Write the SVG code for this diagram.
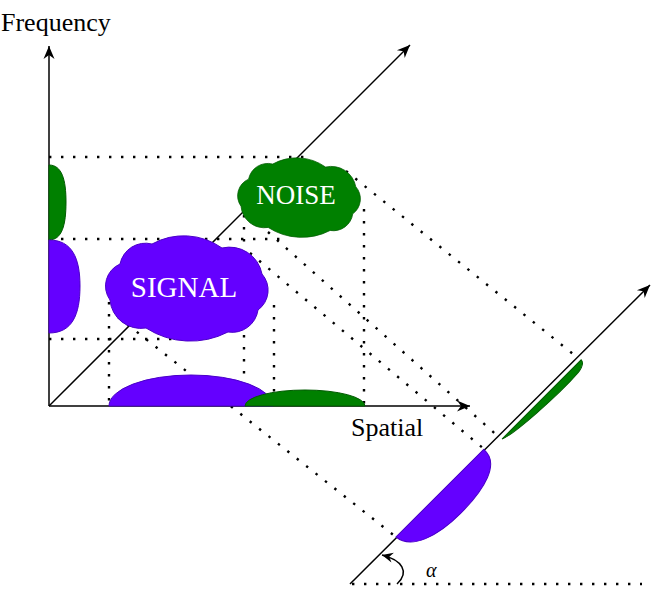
<svg xmlns="http://www.w3.org/2000/svg" xmlns:xlink="http://www.w3.org/1999/xlink" width="664" height="604" viewBox="0 0 664 604">
<style>
.axis{stroke:#000;stroke-width:1.5;fill:none}
.dot{stroke:#000;stroke-width:2.4;stroke-dasharray:2.4 9.6;fill:none}
.purple{fill:#6400ff;stroke:#4a00c8;stroke-width:1}
.green{fill:#008000;stroke:#005a00;stroke-width:1}
.lbl{fill:#000}
.cl{fill:#fff;text-anchor:middle}
</style>
<defs>
<marker id="arr" markerUnits="userSpaceOnUse" markerWidth="16" markerHeight="14" viewBox="-14 -7 16 14" refX="0" refY="0" orient="auto">
<path d="M0,0 L-13,-5.5 L-9,0 L-13,5.5 Z" fill="#000"/>
</marker>
<marker id="arrs" markerUnits="userSpaceOnUse" markerWidth="14" markerHeight="12" viewBox="-12 -6 14 12" refX="0" refY="0" orient="auto">
<path d="M0,0 L-11,-5 L-7.5,0 L-11,5 Z" fill="#000"/>
</marker>
<path id="cloud" d="M4,64 A24,24 0 0 1 14,28 A26,26 0 0 1 46,8 A66,66 0 0 1 116,12 A33,33 0 0 1 156,38 A24.5,24.5 0 0 1 152,74 A26,26 0 0 1 122,96 A82,82 0 0 1 40,92 A31,31 0 0 1 4,64 Z"/>
</defs>

<g id="axes">
<line class="axis" x1="49" y1="406" x2="49" y2="46" marker-end="url(#arr)"/>
<line class="axis" x1="49" y1="406" x2="470" y2="406" marker-end="url(#arr)"/>
<line class="axis" x1="49" y1="406" x2="410" y2="45" marker-end="url(#arr)"/>
<line class="axis" x1="350" y1="584" x2="650" y2="285" marker-end="url(#arr)"/>
</g>

<g id="connectors">
<line class="dot" x1="49" y1="157" x2="305" y2="157"/>
<line class="dot" x1="49" y1="239" x2="280" y2="239"/>
<line class="dot" x1="49" y1="339" x2="183" y2="339"/>
<line class="dot" x1="109" y1="290" x2="109" y2="406"/>
<line class="dot" x1="244" y1="215" x2="244" y2="406"/>
<line class="dot" x1="274" y1="305" x2="274" y2="406"/>
<line class="dot" x1="364" y1="209" x2="364" y2="406"/>
<line class="dot" x1="346" y1="171" x2="578" y2="358"/>
<line class="dot" x1="268" y1="232" x2="500" y2="438"/>
<line class="dot" x1="250" y1="253" x2="484" y2="449"/>
<line class="dot" x1="118" y1="317" x2="396" y2="537"/>
<line class="dot" x1="352" y1="584" x2="642" y2="584"/>
<path class="axis" d="M397,584 C410,572 402,560 382,555" marker-end="url(#arrs)"/>
</g>

<g id="freq-green"><path class="green" d="M49,165 C62,165 66,180 66,202 C66,225 62,240 49,240 Z"/></g>
<g id="freq-purple"><path class="purple" d="M49,240 C72,240 80,258 80,286 C80,315 72,333 49,333 Z"/></g>
<g id="spatial-purple"><path class="purple" d="M109,406 A82,31 0 0 1 273,406 Z"/></g>
<g id="spatial-green"><path class="green" d="M245,406 A60,16 0 0 1 365,406 Z"/></g>
<g id="proj-purple"><path class="purple" transform="translate(396,537) rotate(-45)" d="M0,0 C2,20 30,29 62,29 C96,29 126,22 124,0 Z"/></g>
<g id="proj-green"><path class="green" transform="translate(502,439) rotate(-45)" d="M0,0 C10,5 70,9 100,7 C108,6 112,3 112,0 Z"/></g>

<g id="signal">
<use xlink:href="#cloud" class="purple" transform="translate(106,236)"/>
<text class="cl" x="184" y="297" font-family="Liberation Serif, DejaVu Serif, serif" font-size="29">SIGNAL</text>
</g>
<g id="noise">
<use xlink:href="#cloud" class="green" transform="translate(238,158) scale(0.755)"/>
<text class="cl" x="296" y="204" font-family="Liberation Serif, DejaVu Serif, serif" font-size="27">NOISE</text>
</g>

<g id="labels">
<text class="lbl" x="1" y="31" font-family="Liberation Serif, DejaVu Serif, serif" font-size="26">Frequency</text>
<text class="lbl" x="351" y="436" font-family="Liberation Serif, DejaVu Serif, serif" font-size="26">Spatial</text>
<text class="lbl" x="426" y="577" font-family="Liberation Serif, DejaVu Serif, serif" font-size="20" font-style="italic">α</text>
</g>
</svg>
